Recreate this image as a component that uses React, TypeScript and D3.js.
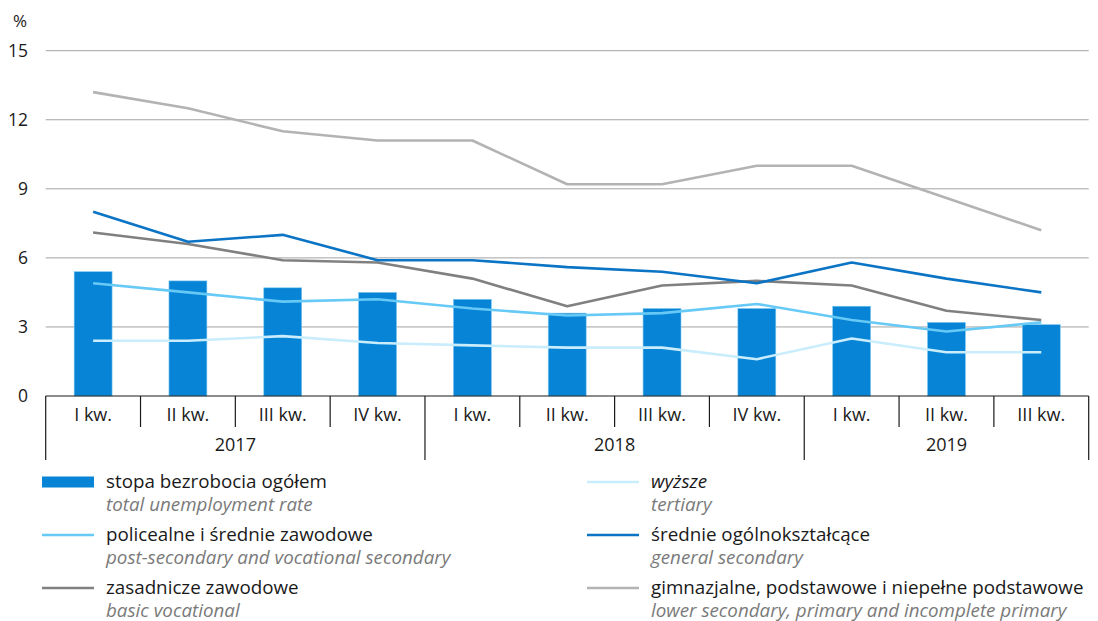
import React from "react";
import * as d3 from "d3";

const quarters = ["I kw.", "II kw.", "III kw.", "IV kw.", "I kw.", "II kw.", "III kw.", "IV kw.", "I kw.", "II kw.", "III kw."];
const years = [
  { label: "2017", start: 0, end: 4 },
  { label: "2018", start: 4, end: 8 },
  { label: "2019", start: 8, end: 11 },
];
const yTicks = [0, 3, 6, 9, 12, 15];

const total = [5.4, 5.0, 4.7, 4.5, 4.2, 3.6, 3.8, 3.8, 3.9, 3.2, 3.1];
const postSecVoc = [4.9, 4.5, 4.1, 4.2, 3.8, 3.5, 3.6, 4.0, 3.3, 2.8, 3.2];
const basicVoc = [7.1, 6.6, 5.9, 5.8, 5.1, 3.9, 4.8, 5.0, 4.8, 3.7, 3.3];
const tertiary = [2.4, 2.4, 2.6, 2.3, 2.2, 2.1, 2.1, 1.6, 2.5, 1.9, 1.9];
const generalSec = [8.0, 6.7, 7.0, 5.9, 5.9, 5.6, 5.4, 4.9, 5.8, 5.1, 4.5];
const lowerSec = [13.2, 12.5, 11.5, 11.1, 11.1, 9.2, 9.2, 10.0, 10.0, 8.6, 7.2];

const lineSeries = [
  { name: "wyższe", values: tertiary, color: "#c9edfc" },
  { name: "policealne", values: postSecVoc, color: "#66c9f6" },
  { name: "zasadnicze", values: basicVoc, color: "#808080" },
  { name: "ogólnokształcące", values: generalSec, color: "#0b74c5" },
  { name: "gimnazjalne", values: lowerSec, color: "#b3b3b3" },
];

const legendItems = [
  { pl: "stopa bezrobocia ogółem", en: "total unemployment rate", color: "#0784d5", bar: true, plItalic: false },
  { pl: "policealne i średnie zawodowe", en: "post-secondary and vocational secondary", color: "#66c9f6", bar: false, plItalic: false },
  { pl: "zasadnicze zawodowe", en: "basic vocational", color: "#808080", bar: false, plItalic: false },
  { pl: "wyższe", en: "tertiary", color: "#c9edfc", bar: false, plItalic: true },
  { pl: "średnie ogólnokształcące", en: "general secondary", color: "#0b74c5", bar: false, plItalic: false },
  { pl: "gimnazjalne, podstawowe i niepełne podstawowe", en: "lower secondary, primary and incomplete primary", color: "#b3b3b3", bar: false, plItalic: false },
];

const W = 1098;
const H = 621;
const left = 45.7;
const right = 1088.7;
const top = 50.7;
const bottom = 396;
const FONT = "'Open Sans', sans-serif";

export default function App() {
  const x = d3.scaleBand<number>().domain(d3.range(quarters.length)).range([left, right]).paddingInner(0).paddingOuter(0);
  const y = d3.scaleLinear().domain([0, 15]).range([bottom, top]);
  const bw = x.bandwidth();
  const barW = bw * 0.4;
  const line = d3
    .line<number>()
    .x((_, i) => (x(i) as number) + bw / 2)
    .y((d) => y(d));

  const edge = (i: number) => (i < quarters.length ? (x(i) as number) : right);

  return (
    <svg width={W} height={H} style={{ position: "absolute", left: 0, top: 0, background: "#fff" }} fontFamily={FONT}>
      {/* gridlines */}
      {yTicks.filter((t) => t > 0).map((t) => (
        <line key={t} x1={left} x2={right} y1={y(t)} y2={y(t)} stroke="#a3a3a3" strokeWidth={1} />
      ))}
      {/* y labels */}
      {yTicks.map((t) => (
        <text key={t} x={28} y={y(t)} dy="0.36em" textAnchor="end" fontSize={17.5} fill="#1a1a1a">
          {t}
        </text>
      ))}
      <text x={20} y={21} dy="0.36em" textAnchor="middle" fontSize={17} fill="#1a1a1a">%</text>

      {/* bars */}
      {total.map((v, i) => (
        <rect
          key={i}
          x={(x(i) as number) + bw / 2 - barW / 2}
          y={y(v)}
          width={barW}
          height={bottom - y(v)}
          fill="#0784d5"
          stroke="#7ec8f0"
          strokeWidth={0.6}
        />
      ))}

      {/* lines */}
      {lineSeries.map((s) => (
        <path key={s.name} d={line(s.values) || ""} fill="none" stroke={s.color} strokeWidth={2.6} strokeLinejoin="round" />
      ))}

      {/* axis */}
      <line x1={left} x2={right} y1={bottom} y2={bottom} stroke="#1a1a1a" strokeWidth={1.2} />
      {d3.range(quarters.length + 1).map((i) => {
        const isYear = years.some((yr) => yr.start === i) || i === quarters.length;
        return (
          <line key={i} x1={edge(i)} x2={edge(i)} y1={bottom} y2={isYear ? 460 : 427} stroke="#1a1a1a" strokeWidth={1.2} />
        );
      })}
      {quarters.map((q, i) => (
        <text key={i} x={(x(i) as number) + bw / 2} y={415} dy="0.36em" textAnchor="middle" fontSize={18} fill="#1a1a1a">
          {q}
        </text>
      ))}
      {years.map((yr) => (
        <text key={yr.label} x={(edge(yr.start) + edge(yr.end)) / 2} y={444.5} dy="0.36em" textAnchor="middle" fontSize={18} fill="#1a1a1a">
          {yr.label}
        </text>
      ))}

      {/* legend */}
      {legendItems.map((it, k) => {
        const col = Math.floor(k / 3);
        const row = k % 3;
        const sx = col === 0 ? 42 : 587;
        const tx = col === 0 ? 106 : 651;
        const base = 488 + row * 53;
        const sy = base - 6;
        return (
          <g key={k}>
            {it.bar ? (
              <rect x={sx} y={sy - 5.5} width={52} height={11} fill={it.color} />
            ) : (
              <line x1={sx} x2={sx + 52} y1={sy} y2={sy} stroke={it.color} strokeWidth={2.6} />
            )}
            <text x={tx} y={base} fontSize={18.8} fill="#1a1a1a" fontStyle={it.plItalic ? "italic" : "normal"}>
              {it.pl}
            </text>
            <text x={tx} y={base + 22.5} fontSize={18.8} fill="#7a7a7a" fontStyle="italic">
              {it.en}
            </text>
          </g>
        );
      })}
    </svg>
  );
}
